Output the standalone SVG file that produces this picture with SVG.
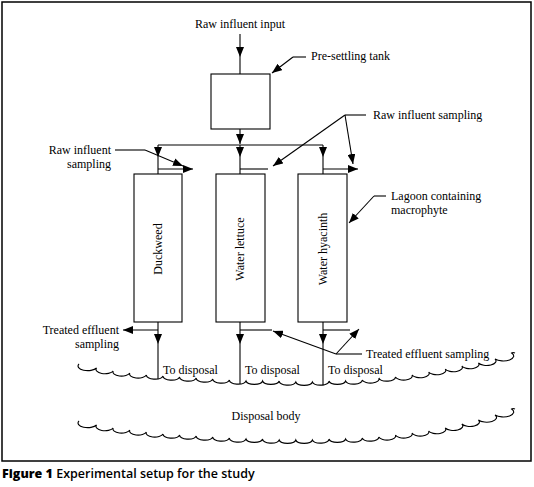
<svg xmlns="http://www.w3.org/2000/svg" width="534" height="487" viewBox="0 0 534 487">
<style>
.ln{fill:none;stroke:#000;stroke-width:1.1}
.bx{fill:#fff;stroke:#000;stroke-width:1.1}
.t{font-family:"Liberation Serif","Times New Roman",serif;font-size:12px;fill:#000}
.a{marker-end:url(#ah)}
</style>
<defs>
<marker id="ah" markerUnits="userSpaceOnUse" markerWidth="10" markerHeight="8" refX="10" refY="4" orient="auto">
<polygon points="0,0 10,4 0,8" fill="#000"/>
</marker>
</defs>
<rect x="2" y="2" width="529" height="459" fill="#fff" stroke="#000" stroke-width="1.5"/>

<g id="connectors">
<path class="ln a" d="M240,34 V57"/><path class="ln" d="M240,57 V74"/>
<path class="ln a" d="M240,129 V144"/>
<path class="ln" d="M158,145 H323"/>
<path class="ln a" d="M158,145 V157"/><path class="ln" d="M158,157 V174"/>
<path class="ln a" d="M240,145 V157"/><path class="ln" d="M240,157 V174"/>
<path class="ln a" d="M323,145 V157"/><path class="ln" d="M323,157 V174"/>
<path class="ln a" d="M158,169 H193"/>
<path class="ln" d="M240,169 H268"/>
<path class="ln a" d="M323,169 H358"/>
<path class="ln" d="M115,150 H145"/><path class="ln a" d="M145,150 L183,166"/>
<path class="ln" d="M366,115 H345"/><path class="ln a" d="M345,115 L273,166"/><path class="ln a" d="M345,115 L353,164"/>
<path class="ln" d="M306,57 H293"/><path class="ln a" d="M293,57 L272,73"/>
<path class="ln" d="M386,196 H374"/><path class="ln a" d="M374,196 L349,223"/>
<path class="ln a" d="M158,322 V344"/><path class="ln" d="M158,344 V379"/>
<path class="ln a" d="M240,322 V344"/><path class="ln" d="M240,344 V384"/>
<path class="ln a" d="M323,322 V344"/><path class="ln" d="M323,344 V385.5"/>
<path class="ln a" d="M158,330 H123"/>
<path class="ln" d="M240,330 H272"/>
<path class="ln" d="M323,330 H350"/>
<path class="ln" d="M362,354 H336"/><path class="ln a" d="M336,354 L273,331"/><path class="ln a" d="M336,354 L359,329"/>
</g>

<g id="presettling"><rect class="bx" x="211" y="74" width="59" height="55"/></g>
<g id="duckweed"><rect class="bx" x="134" y="174" width="48" height="148"/>
<text class="t" text-anchor="middle" transform="translate(162,249) rotate(-90)">Duckweed</text></g>
<g id="waterlettuce"><rect class="bx" x="216" y="174" width="49" height="148"/>
<text class="t" text-anchor="middle" transform="translate(244,249) rotate(-90)">Water lettuce</text></g>
<g id="waterhyacinth"><rect class="bx" x="298" y="174" width="49" height="148"/>
<text class="t" text-anchor="middle" transform="translate(327,249) rotate(-90)">Water hyacinth</text></g>

<g id="waves">
<path class="ln" d="M79,364 A8.4,4 0 0 0 96.6,368 A8.4,4 0 0 0 113.2,371 A8.4,4 0 0 0 129.8,373 A8.4,4 0 0 0 146.4,375 A8.4,4 0 0 0 163,376 A8.4,4 0 0 0 179.6,377 A8.4,4 0 0 0 196.2,378 A8.4,4 0 0 0 212.8,379 A8.4,4 0 0 0 229.4,380 A8.4,4 0 0 0 246,381 A8.4,4 0 0 0 262.6,381 A8.4,4 0 0 0 279.2,381 A8.4,4 0 0 0 295.8,382 A8.4,4 0 0 0 312.4,382 A8.4,4 0 0 0 329,381 A8.4,4 0 0 0 345.6,381 A8.4,4 0 0 0 362.2,380 A8.4,4 0 0 0 378.8,378 A8.4,4 0 0 0 395.4,377 A8.4,4 0 0 0 412,375 A8.4,4 0 0 0 428.6,372 A8.4,4 0 0 0 445.2,369 A8.4,4 0 0 0 461.8,366 A8.4,4 0 0 0 478.4,363 A8.4,4 0 0 0 495,359 A8.4,4 0 0 0 511.6,353 Q513,352 515,353"/>
<path class="ln" d="M79,421 A8.4,4 0 0 0 96.6,425 A8.4,4 0 0 0 113.2,428 A8.4,4 0 0 0 129.8,430 A8.4,4 0 0 0 146.4,432 A8.4,4 0 0 0 163,434 A8.4,4 0 0 0 179.6,435 A8.4,4 0 0 0 196.2,436 A8.4,4 0 0 0 212.8,437 A8.4,4 0 0 0 229.4,438 A8.4,4 0 0 0 246,439 A8.4,4 0 0 0 262.6,439 A8.4,4 0 0 0 279.2,440 A8.4,4 0 0 0 295.8,440 A8.4,4 0 0 0 312.4,440 A8.4,4 0 0 0 329,439 A8.4,4 0 0 0 345.6,439 A8.4,4 0 0 0 362.2,438 A8.4,4 0 0 0 378.8,437 A8.4,4 0 0 0 395.4,435 A8.4,4 0 0 0 412,433 A8.4,4 0 0 0 428.6,431 A8.4,4 0 0 0 445.2,428 A8.4,4 0 0 0 461.8,424 A8.4,4 0 0 0 478.4,420 A8.4,4 0 0 0 495,415 A8.4,4 0 0 0 511.6,409 Q513,408 515,409"/>
</g>

<g id="labels">
<text class="t" x="240" y="28" text-anchor="middle">Raw influent input</text>
<text class="t" x="311" y="60">Pre-settling tank</text>
<text class="t" x="373" y="119">Raw influent sampling</text>
<text class="t" x="111" y="154" text-anchor="end">Raw influent</text>
<text class="t" x="111" y="168" text-anchor="end">sampling</text>
<text class="t" x="391" y="200">Lagoon containing</text>
<text class="t" x="391" y="214">macrophyte</text>
<text class="t" x="119" y="334" text-anchor="end">Treated effluent</text>
<text class="t" x="119" y="348" text-anchor="end">sampling</text>
<text class="t" x="366" y="358">Treated effluent sampling</text>
<text class="t" x="163" y="374">To disposal</text>
<text class="t" x="245" y="374">To disposal</text>
<text class="t" x="328" y="374">To disposal</text>
<text class="t" x="266" y="420" text-anchor="middle">Disposal body</text>
</g>

<text x="2" y="478" style="font-family:'Open Sans','Noto Sans',sans-serif;font-size:12.5px;fill:#000"><tspan font-weight="800">Figure 1</tspan><tspan font-weight="600"> Experimental setup for the study</tspan></text>
</svg>
